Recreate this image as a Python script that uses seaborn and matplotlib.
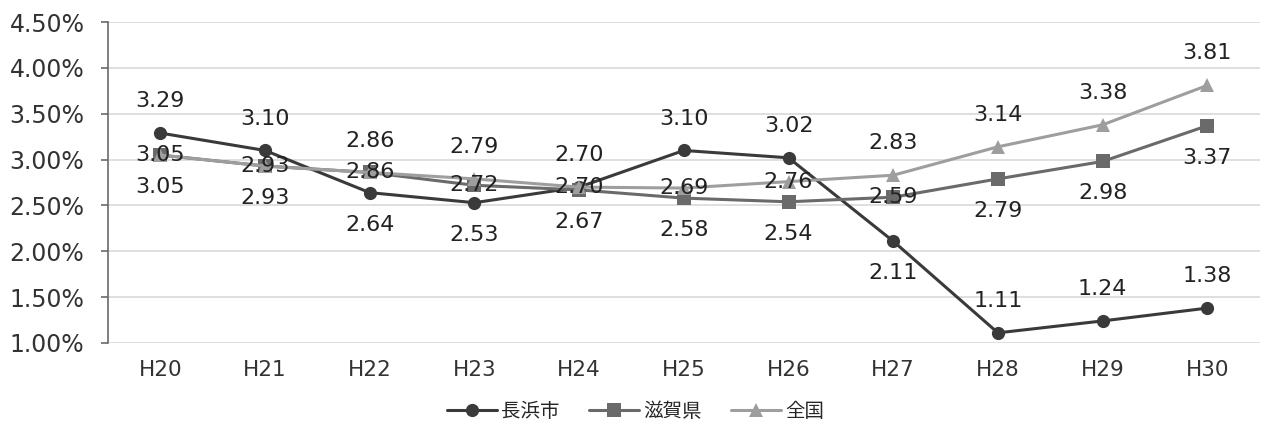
import matplotlib
matplotlib.use("Agg")
import matplotlib.pyplot as plt
import seaborn as sns
import pandas as pd

years = ["H20", "H21", "H22", "H23", "H24", "H25", "H26", "H27", "H28", "H29", "H30"]
nagahama = [3.29, 3.10, 2.64, 2.53, 2.70, 3.10, 3.02, 2.11, 1.11, 1.24, 1.38]
shiga = [3.05, 2.93, 2.86, 2.72, 2.67, 2.58, 2.54, 2.59, 2.79, 2.98, 3.37]
zenkoku = [3.05, 2.93, 2.86, 2.79, 2.70, 2.69, 2.76, 2.83, 3.14, 3.38, 3.81]
series_names = ["長浜市", "滋賀県", "全国"]
yticks = [1.0, 1.5, 2.0, 2.5, 3.0, 3.5, 4.0, 4.5]

# label placement per point: +1 above, 0 on the line, -1 below
place = {
    "長浜市": [1, 1, -1, -1, 1, 1, 1, -1, 1, 1, 1],
    "滋賀県": [-1, -1, 0, 0, -1, -1, -1, 0, -1, -1, -1],
    "全国": [0, 0, 1, 1, 0, 0, 0, 1, 1, 1, 1],
}

sns.set_theme(style="white")
plt.rcParams["font.family"] = ["DejaVu Sans", "Noto Sans CJK JP"]

rows = []
for name, vals in zip(series_names, [nagahama, shiga, zenkoku]):
    for i, (yr, v) in enumerate(zip(years, vals)):
        rows.append({"年度": yr, "idx": i, "率": v, "区分": name})
df = pd.DataFrame(rows)

palette = {"長浜市": "#3a3a3a", "滋賀県": "#6a6a6a", "全国": "#9e9e9e"}
markers = {"長浜市": "o", "滋賀県": "s", "全国": "^"}

fig, ax = plt.subplots(figsize=(12.66, 4.26), dpi=100)
fig.subplots_adjust(left=0.0853, right=0.995, top=0.948, bottom=0.195)

sns.lineplot(data=df, x="idx", y="率", hue="区分", style="区分",
             hue_order=series_names, style_order=series_names,
             palette=palette, markers=markers, dashes=False,
             markersize=9.5, linewidth=2.2, markeredgewidth=0, ax=ax)

for name, vals in zip(series_names, [nagahama, shiga, zenkoku]):
    for i, v in enumerate(vals):
        off = place[name][i] * 23
        ax.annotate(f"{v:.2f}", (i, v), xytext=(0, off), textcoords="offset points",
                    ha="center", va="center", fontsize=16, color="#222222")

ax.set_xlim(-0.5, len(years) - 0.5)
ax.set_ylim(1.0, 4.5)
ax.set_xticks(range(len(years)))
ax.set_xticklabels(years)
ax.set_yticks(yticks)
ax.set_yticklabels([f"{t:.2f}%" for t in yticks])
ax.set_xlabel("")
ax.set_ylabel("")

ax.yaxis.grid(True, color="#d9d9d9", linewidth=1.2)
ax.xaxis.grid(False)
for s in ["top", "right", "bottom"]:
    ax.spines[s].set_visible(False)
ax.spines["left"].set_color("#6a6a6a")
ax.spines["left"].set_linewidth(1.2)
ax.tick_params(axis="y", which="major", left=True, length=5, width=1.2,
               color="#6a6a6a", pad=12, labelsize=17, labelcolor="#333333")
ax.tick_params(axis="x", length=0, pad=12, labelsize=15.5, labelcolor="#333333")

handles, labels = ax.get_legend_handles_labels()
leg = ax.legend(handles, labels, loc="lower center", bbox_to_anchor=(0.458, -0.27),
                ncol=3, frameon=False, fontsize=14, handlelength=2.6,
                columnspacing=1.5, handletextpad=0.2, borderaxespad=0)
for t in leg.get_texts():
    t.set_family(["Noto Sans CJK JP", "DejaVu Sans"])

fig.savefig("out.png", dpi=100, facecolor="white")
